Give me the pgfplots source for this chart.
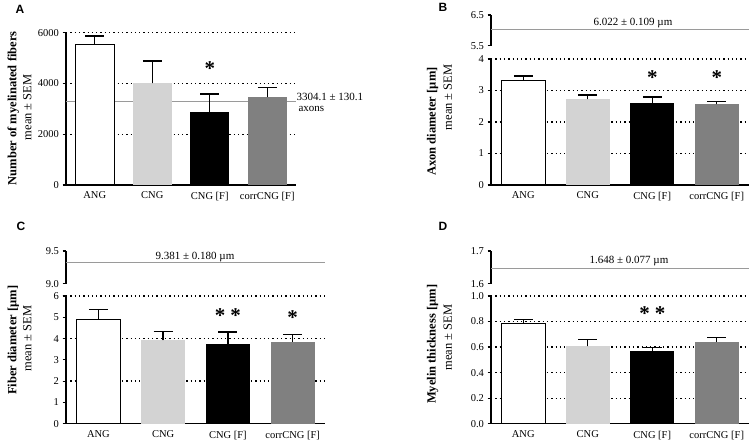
\documentclass[border=0pt]{standalone}
\usepackage{fontspec}
\setmainfont{Liberation Serif}
\setsansfont{Liberation Sans}
\usepackage{pgfplots}
\pgfplotsset{compat=1.18}

\definecolor{lightbar}{HTML}{D3D3D3}
\definecolor{darkbar}{HTML}{808080}
\definecolor{refline}{HTML}{9A9A9A}

\pgfplotsset{
  panel/.style={scale only axis, anchor=south west, xmin=-0.5, xmax=3.5, clip=false,
    axis line style={-, line width=1.2pt, black},
    tick label style={font=\fontsize{10.5}{12}\selectfont, black},
    /pgf/number format/assume math mode=true,
    ytick style={line width=1.2pt, black},
    major tick length=3.5pt, tick align=outside},
  lower/.style={panel, axis x line*=bottom, axis y line*=left,
    xtick={0,1,2,3}, xticklabels={ANG,CNG,CNG [F],corrCNG [F]},
    xtick style={draw=none},
    major grid style={black, line width=1.3pt, dash pattern=on 1.3pt off 3pt}},
  upper/.style={panel, axis y line*=left, axis x line=none},
  bar/.style={ybar, bar width=0.68, bar shift=0pt, draw=none,
    error bars/y dir=plus, error bars/y explicit, error bars/error mark=-,
    error bars/error bar style={line width=1.4pt, black, solid},
    error bars/error mark options={rotate=90, line width=1.4pt, black, solid, mark size=9.5pt}},
  ref/.style={refline, line width=1pt, no markers},
}
\tikzset{
  star/.style={font=\fontsize{21}{21}\selectfont\bfseries},
  ylab/.style={rotate=90, font=\fontsize{12.5}{14}\selectfont\bfseries},
  ysub/.style={rotate=90, font=\fontsize{12.5}{14}\selectfont},
  plab/.style={font=\sffamily\bfseries\fontsize{12}{12}\selectfont},
  note/.style={font=\fontsize{11}{12}\selectfont},
}

\begin{document}
\begin{tikzpicture}
\useasboundingbox (0pt,0pt) rectangle (752pt,-445pt);

% ---- A: number of fibers
\begin{axis}[lower, at={(66pt,-185pt)}, width=230pt, height=152.3pt,
  ymin=0, ymax=6000, ytick={0,2000,4000,6000}, ymajorgrids,
  /pgf/number format/1000 sep={}]
\addplot[ref] coordinates {(-0.5,3304.1) (3.5,3304.1)};
\addplot[bar, fill=white, draw=black, line width=1.2pt] coordinates {(0,5530) +- (0,340)};
\addplot[bar, fill=lightbar] coordinates {(1,4000) +- (0,885)};
\addplot[bar, fill=black] coordinates {(2,2890) +- (0,700)};
\addplot[bar, fill=darkbar] coordinates {(3,3450) +- (0,400)};
\node[star] at (axis cs:2,4600) {*};
\end{axis}
\node[note, anchor=west] at (293pt,-96.5pt) {3304.1 ± 130.1};
\node[note, anchor=west] at (295pt,-108.5pt) {axons};
\node[ylab] at (13.3pt,-108.3pt) {Number of myelinated fibers};
\node[ysub] at (27.3pt,-107.3pt) {mean ± SEM};
\node[plab] at (20pt,-9pt) {A};

% ---- B: axon diameter
\begin{axis}[upper, at={(491pt,-45.7pt)}, width=258pt, height=30.7pt,
  ymin=5.5, ymax=6.5, ytick={5.5,6.5}]
\addplot[ref] coordinates {(-0.5,6.022) (3.5,6.022)};
\end{axis}
\begin{axis}[lower, at={(491pt,-185pt)}, width=258pt, height=126pt,
  ymin=0, ymax=4, ytick={0,1,2,3,4}, ymajorgrids]
\addplot[bar, fill=white, draw=black, line width=1.2pt] coordinates {(0,3.33) +- (0,0.13)};
\addplot[bar, fill=lightbar] coordinates {(1,2.72) +- (0,0.14)};
\addplot[bar, fill=black] coordinates {(2,2.59) +- (0,0.21)};
\addplot[bar, fill=darkbar] coordinates {(3,2.56) +- (0,0.09)};
\node[star] at (axis cs:2,3.42) {*};
\node[star] at (axis cs:3,3.42) {*};
\end{axis}
\node[note] at (633pt,-23.3pt) {6.022 ± 0.109 µm};
\node[ylab] at (432.7pt,-121.7pt) {Axon diameter [µm]};
\node[ysub] at (447.7pt,-97.3pt) {mean ± SEM};
\node[plab] at (443pt,-7.5pt) {B};

% ---- C: fiber diameter
\begin{axis}[upper, at={(66pt,-283.7pt)}, width=259pt, height=32.7pt,
  ymin=9, ymax=9.5, ytick={9,9.5},
  yticklabel style={/pgf/number format/.cd, fixed, fixed zerofill, precision=1}]
\addplot[ref] coordinates {(-0.5,9.32) (3.5,9.32)};
\end{axis}
\begin{axis}[lower, at={(66pt,-423.7pt)}, width=259pt, height=127.7pt,
  ymin=0, ymax=6, ytick={0,1,2,3,4,5,6},
  extra y ticks={2,4,6}, extra y tick labels={}, extra y tick style={grid=major}]
\addplot[bar, fill=white, draw=black, line width=1.2pt] coordinates {(0,4.89) +- (0,0.47)};
\addplot[bar, fill=lightbar] coordinates {(1,3.92) +- (0,0.42)};
\addplot[bar, fill=black] coordinates {(2,3.73) +- (0,0.58)};
\addplot[bar, fill=darkbar] coordinates {(3,3.84) +- (0,0.34)};
\node[star] at (axis cs:2,5.08) {*\hspace{5pt}*};
\node[star] at (axis cs:3,5.0) {*};
\end{axis}
\node[note] at (195pt,-257pt) {9.381 ± 0.180 µm};
\node[ylab] at (13.3pt,-340.3pt) {Fiber diameter [µm]};
\node[ysub] at (27.3pt,-338.7pt) {mean ± SEM};
\node[plab] at (21pt,-226pt) {C};

% ---- D: myelin thickness
\begin{axis}[upper, at={(491pt,-283.7pt)}, width=258pt, height=32.7pt,
  ymin=1.6, ymax=1.7, ytick={1.6,1.7},
  yticklabel style={/pgf/number format/.cd, fixed, fixed zerofill, precision=1}]
\addplot[ref] coordinates {(-0.5,1.648) (3.5,1.648)};
\end{axis}
\begin{axis}[lower, at={(491pt,-423.7pt)}, width=258pt, height=127.7pt,
  ymin=0, ymax=1, ytick={0,0.2,0.4,0.6,0.8,1}, ymajorgrids,
  yticklabel style={/pgf/number format/.cd, fixed, fixed zerofill, precision=1}]
\addplot[bar, fill=white, draw=black, line width=1.2pt] coordinates {(0,0.783) +- (0,0.032)};
\addplot[bar, fill=lightbar] coordinates {(1,0.606) +- (0,0.052)};
\addplot[bar, fill=black] coordinates {(2,0.567) +- (0,0.031)};
\addplot[bar, fill=darkbar] coordinates {(3,0.640) +- (0,0.034)};
\node[star] at (axis cs:2,0.86) {*\hspace{5pt}*};
\end{axis}
\node[note] at (629pt,-261.3pt) {1.648 ± 0.077 µm};
\node[ylab] at (432.7pt,-344.3pt) {Myelin thickness [µm]};
\node[ysub] at (447.7pt,-337.7pt) {mean ± SEM};
\node[plab] at (443pt,-226pt) {D};
\end{tikzpicture}
\end{document}
